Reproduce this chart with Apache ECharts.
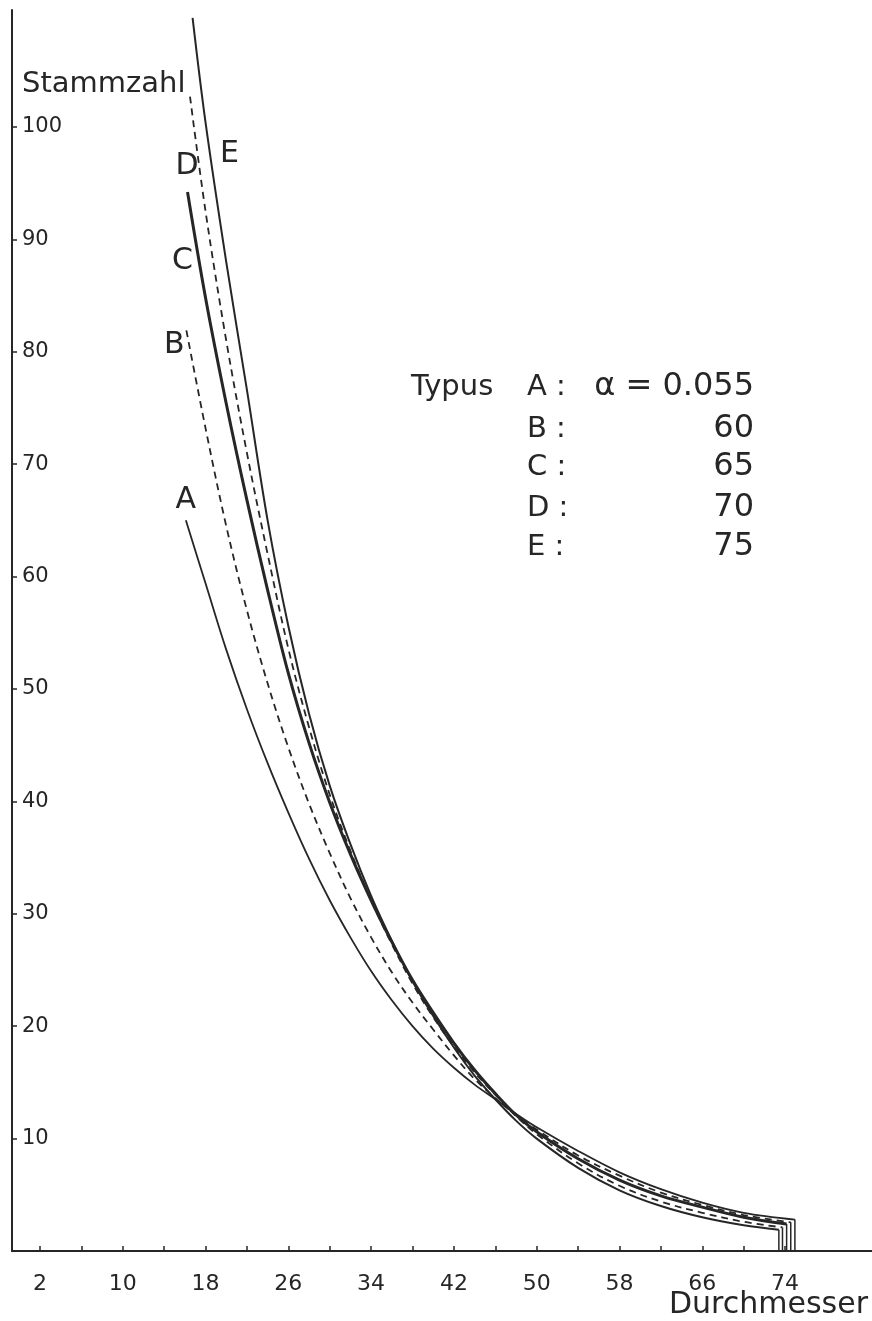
<!DOCTYPE html>
<html><head><meta charset="utf-8">
<script src="https://cdn.jsdelivr.net/npm/echarts@6/dist/echarts.min.js"></script>
<style>html,body{margin:0;padding:0;background:#fff}#c{width:872px;height:1321px}</style>
</head><body><div id="c"></div>
<script>
// ---- data ----
const xLabelValues = [2, 10, 18, 26, 34, 42, 50, 58, 66, 74];
const xTickValues = [2, 6, 10, 14, 18, 22, 26, 30, 34, 38, 42, 46, 50, 54, 58, 62, 66, 70, 74];
const yTickValues = [10, 20, 30, 40, 50, 60, 70, 80, 90, 100];
const typusNames = ['A', 'B', 'C', 'D', 'E'];
const alphaLabels = ['α = 0.055', '60', '65', '70', '75'];

const diamA = [16.1, 18, 20, 22, 24, 26, 28, 30, 32, 34, 36, 38, 40, 42, 44, 46, 48, 50, 54, 58, 62, 66, 70, 74.95];
const stemsA = [65.0, 59.4, 53.5, 48.2, 43.4, 39.0, 34.9, 31.2, 27.9, 24.9, 22.3, 20.0, 18.0, 16.3, 14.8, 13.5, 12.2, 11.0, 8.9, 7.0, 5.5, 4.3, 3.4, 2.8];

const diamB = [16.15, 18, 20, 22, 24, 26, 28, 30, 32, 34, 36, 38, 40, 42, 44, 46, 48, 50, 54, 58, 62, 66, 70, 74.55];
const stemsB = [81.9, 73.2, 64.5, 57.0, 50.5, 44.8, 39.8, 35.4, 31.4, 27.9, 24.8, 22.1, 19.7, 17.4, 15.3, 13.6, 12.1, 10.8, 8.5, 6.7, 5.2, 4.1, 3.2, 2.55];

const diamC = [16.26, 18, 20, 22, 24, 26, 28, 30, 32, 34, 36, 38, 40, 42, 44, 46, 48, 50, 54, 58, 62, 66, 70, 74.15];
const stemsC = [94.2, 84.8, 75.4, 66.8, 58.8, 51.4, 45.2, 39.9, 35.3, 31.2, 27.5, 24.1, 21.2, 18.5, 16.1, 14.0, 12.1, 10.6, 8.2, 6.3, 4.9, 3.9, 3.0, 2.4];

const diamD = [16.5, 18, 20, 22, 24, 26, 28, 30, 32, 34, 36, 38, 40, 42, 44, 46, 48, 50, 54, 58, 62, 66, 70, 73.75];
const stemsD = [102.7, 92.5, 81.0, 71.0, 62.0, 53.6, 46.6, 40.6, 35.6, 31.2, 27.3, 23.8, 20.8, 18.2, 15.9, 13.9, 12.0, 10.4, 7.8, 5.8, 4.4, 3.4, 2.6, 2.1];

const diamE = [16.75, 18, 20, 22, 24, 26, 28, 30, 32, 34, 36, 38, 40, 42, 44, 46, 48, 50, 54, 58, 62, 66, 70, 73.4];
const stemsE = [109.7, 100.4, 88.0, 76.6, 65.0, 55.6, 47.8, 41.4, 36.2, 31.6, 27.6, 24.0, 20.9, 18.1, 15.6, 13.5, 11.6, 10.0, 7.4, 5.4, 4.0, 3.0, 2.3, 1.9];

// ---- chart ----
const INK = '#262626';
const FONT = '"DejaVu Sans", sans-serif';
const curves = [
  { name: 'A', d: diamA, n: stemsA, width: 1.8, dash: false, off: [0, -20] },
  { name: 'B', d: diamB, n: stemsB, width: 1.8, dash: true,  off: [-12, 15] },
  { name: 'C', d: diamC, n: stemsC, width: 3.0, dash: false, off: [-5, 69] },
  { name: 'D', d: diamD, n: stemsD, width: 1.8, dash: true,  off: [-3, 70] },
  { name: 'E', d: diamE, n: stemsE, width: 2.0, dash: false, off: [37, 136] }
];

const series = [];
curves.forEach(c => {
  series.push({
    type: 'line', name: c.name,
    data: c.d.map((x, i) => [x, c.n[i]]),
    smooth: 0.35,
    showSymbol: false, symbol: 'none', silent: true, clip: false,
    lineStyle: { color: INK, width: c.width, type: c.dash ? [7, 5] : 'solid' },
    z: 3
  });
  const last = c.d.length - 1;
  series.push({
    type: 'line', name: c.name + ' end',
    data: [[c.d[last], c.n[last]], [c.d[last], 0]],
    showSymbol: false, symbol: 'none', silent: true,
    lineStyle: { color: INK, width: 1.5 },
    z: 3
  });
});

const chart = echarts.init(document.getElementById('c'), null, { renderer: 'canvas' });

const rowY = [387, 429, 467, 508, 547];
const graphic = [
  { type: 'text', x: 22, y: 84, style: { text: 'Stammzahl', font: '29px ' + FONT, fill: INK, align: 'left', verticalAlign: 'middle' } },
  { type: 'text', x: 868, y: 1305, style: { text: 'Durchmesser', font: '30px ' + FONT, fill: INK, align: 'right', verticalAlign: 'middle' } },
  { type: 'text', x: 411, y: rowY[0], style: { text: 'Typus', font: '29px ' + FONT, fill: INK, align: 'left', verticalAlign: 'middle' } }
];
typusNames.forEach((t, i) => {
  graphic.push({ type: 'text', x: 527, y: rowY[i], style: { text: t + ' :', font: '29px ' + FONT, fill: INK, align: 'left', verticalAlign: 'middle' } });
  graphic.push({ type: 'text', x: 754, y: rowY[i], style: { text: alphaLabels[i], font: '32px ' + FONT, fill: INK, align: 'right', verticalAlign: 'middle' } });
});

chart.setOption({
  animation: false,
  backgroundColor: '#ffffff',
  grid: { left: 12, right: 0, top: 10, bottom: 70, containLabel: false, outerBoundsMode: 'none' },
  xAxis: {
    type: 'value', min: -0.7, max: 82.4,
    axisLine: { show: true, onZero: false, lineStyle: { color: INK, width: 2 } },
    axisTick: { show: true, inside: true, length: 5, customValues: xTickValues, lineStyle: { color: INK, width: 1.5 } },
    axisLabel: { show: true, customValues: xLabelValues, fontSize: 22, fontFamily: FONT, color: INK, margin: 22 },
    splitLine: { show: false }
  },
  yAxis: {
    type: 'value', min: 0, max: 110.4,
    axisLine: { show: true, onZero: false, lineStyle: { color: INK, width: 2 } },
    axisTick: { show: true, inside: true, length: 5, customValues: yTickValues, lineStyle: { color: INK, width: 1.5 } },
    axisLabel: { show: true, inside: true, customValues: yTickValues, fontSize: 21, fontFamily: FONT, color: INK, margin: 10 },
    splitLine: { show: false }
  },
  series: series,
  graphic: graphic
});

// curve labels anchored to each curve's first point
curves.forEach(c => {
  const p = chart.convertToPixel({ gridIndex: 0 }, [c.d[0], c.n[0]]);
  graphic.push({ type: 'text', x: p[0] + c.off[0], y: p[1] + c.off[1],
    style: { text: c.name, font: '30px ' + FONT, fill: INK, align: 'center', verticalAlign: 'middle' } });
});
chart.setOption({ graphic: graphic });
</script>
</body></html>
